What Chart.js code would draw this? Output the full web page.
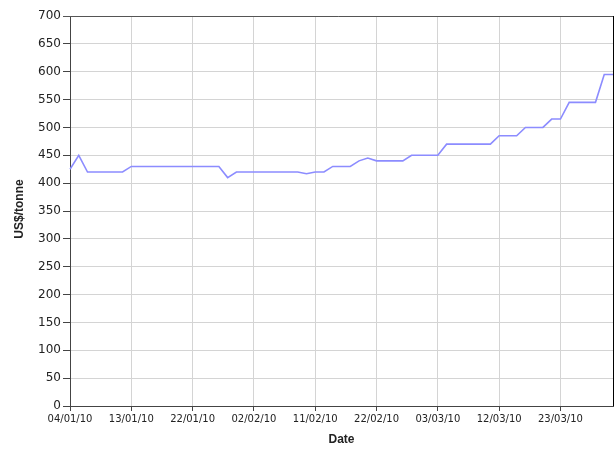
<!DOCTYPE html>
<html>
<head>
<meta charset="utf-8">
<script src="https://cdn.jsdelivr.net/npm/chart.js@4"></script>
<style>
  html, body { margin: 0; padding: 0; background: #fff; }
  #wrap { width: 614px; height: 449px; position: relative; }
</style>
</head>
<body>
<div id="wrap"><canvas id="priceChart"></canvas></div>
<script>
// 1. data (business days, Jan - Mar 2010)
const dates = [
  '04/01/10','05/01/10','06/01/10','07/01/10','08/01/10','11/01/10','12/01/10','13/01/10','14/01/10','15/01/10',
  '18/01/10','19/01/10','20/01/10','21/01/10','22/01/10','25/01/10','26/01/10','27/01/10','28/01/10','29/01/10',
  '01/02/10','02/02/10','03/02/10','04/02/10','05/02/10','08/02/10','09/02/10','10/02/10','11/02/10','12/02/10',
  '15/02/10','16/02/10','17/02/10','18/02/10','19/02/10','22/02/10','23/02/10','24/02/10','25/02/10','26/02/10',
  '01/03/10','02/03/10','03/03/10','04/03/10','05/03/10','08/03/10','09/03/10','10/03/10','11/03/10','12/03/10',
  '15/03/10','16/03/10','17/03/10','18/03/10','19/03/10','22/03/10','23/03/10','24/03/10','25/03/10','26/03/10',
  '29/03/10','30/03/10','31/03/10'
];
const prices = [
  425, 450, 420, 420, 420, 420, 420, 430, 430, 430,
  430, 430, 430, 430, 430, 430, 430, 430, 410, 420,
  420, 420, 420, 420, 420, 420, 420, 417, 420, 420,
  430, 430, 430, 440, 445, 440, 440, 440, 440, 450,
  450, 450, 450, 470, 470, 470, 470, 470, 470, 485,
  485, 485, 500, 500, 500, 515, 515, 545, 545, 545,
  545, 595, 595
];
const tickEvery = 7;   // a labelled date every 7 trading days
const yMax = 700;
const yStep = 50;

// 2. frame + axis titles
const framePlugin = {
  id: 'frame',
  afterDraw(chart) {
    const { ctx, chartArea: a } = chart;
    ctx.save();
    ctx.strokeStyle = '#555';
    ctx.lineWidth = 1;
    ctx.beginPath();
    ctx.moveTo(a.left - 7, a.top + 0.5);
    ctx.lineTo(a.right + 0.5, a.top + 0.5);
    ctx.stroke();
    ctx.strokeStyle = '#000';
    ctx.beginPath();
    ctx.moveTo(a.right + 0.5, a.top);
    ctx.lineTo(a.right + 0.5, a.bottom);
    ctx.stroke();

    ctx.fillStyle = '#222';
    ctx.font = 'bold 12px "Liberation Sans", Arial, sans-serif';
    ctx.textAlign = 'center';
    ctx.textBaseline = 'middle';
    ctx.fillText('Date', (a.left + a.right) / 2, 440);
    ctx.translate(20, 209);
    ctx.rotate(-Math.PI / 2);
    ctx.fillText('US$/tonne', 0, 0);
    ctx.restore();
  }
};

// 3. chart
new Chart(document.getElementById('priceChart'), {
  type: 'line',
  data: {
    labels: dates,
    datasets: [{
      data: prices,
      borderColor: 'rgb(140,140,255)',
      borderWidth: 1.6,
      pointRadius: 0,
      tension: 0,
      fill: false
    }]
  },
  options: {
    responsive: true,
    maintainAspectRatio: false,
    animation: false,
    layout: { padding: { top: 16, right: 1, left: 0, bottom: 0 } },
    plugins: { legend: { display: false }, tooltip: { enabled: false } },
    scales: {
      x: {
        type: 'category',
        offset: false,
        grid: { color: '#d4d4d4', tickColor: '#444', tickLength: 5 },
        border: { color: '#444' },
        ticks: {
          autoSkip: false,
          maxRotation: 0,
          padding: 2,
          color: '#222',
          font: { family: '"DejaVu Sans", Tahoma, sans-serif', size: 10 },
          callback: (v, i) => (i % tickEvery === 0 ? dates[i] : null)
        },
        afterFit: s => { s.height = 43; }
      },
      y: {
        min: 0,
        max: yMax,
        grid: { color: '#d4d4d4', tickColor: '#444', tickLength: 7 },
        border: { color: '#444' },
        ticks: {
          stepSize: yStep,
          padding: 2,
          color: '#222',
          font: { family: '"DejaVu Sans", Tahoma, sans-serif', size: 12 }
        },
        afterFit: s => { s.width = 70; }
      }
    }
  },
  plugins: [framePlugin]
});
</script>
</body>
</html>
